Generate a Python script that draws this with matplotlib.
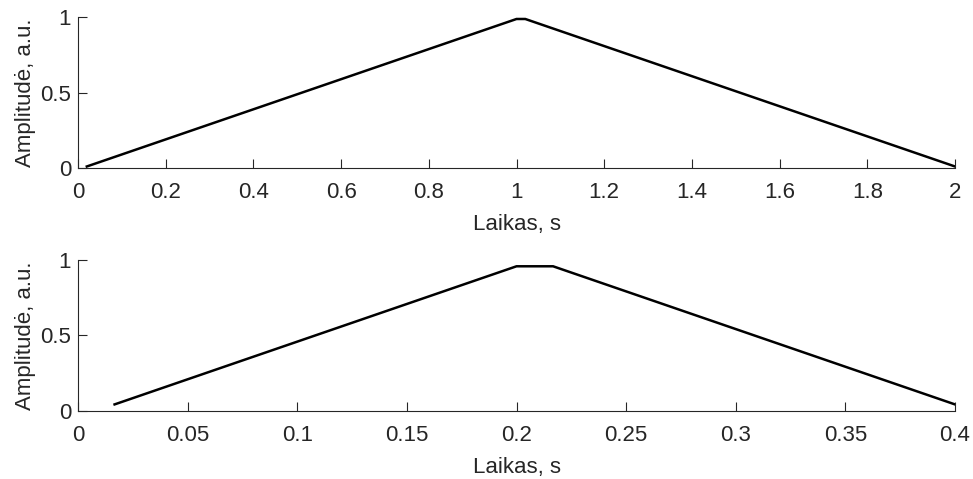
import matplotlib
matplotlib.use("Agg")
import matplotlib.pyplot as plt

# Triangular pulses (vertices of the sampled windows)
t_long = [0.02, 1.00, 1.02, 2.00]
a_long = [0.01, 0.99, 0.99, 0.01]

t_short = [1 / 60, 0.20, 13 / 60, 0.40]
a_short = [0.0417, 0.9583, 0.9583, 0.0417]

xticks_long = [0, 0.2, 0.4, 0.6, 0.8, 1, 1.2, 1.4, 1.6, 1.8, 2]
xticks_short = [0, 0.05, 0.1, 0.15, 0.2, 0.25, 0.3, 0.35, 0.4]
yticks = [0, 0.5, 1]

xlabel_text = "Laikas, s"
ylabel_text = "Amplitudė, a.u."

plt.rcParams["font.family"] = ["Liberation Sans", "DejaVu Sans"]
plt.rcParams["font.size"] = 16

axis_color = "#262626"
FS = 16

fig = plt.figure(figsize=(9.73, 4.79), dpi=100)
ax1 = fig.add_axes([0.0802, 0.6493, 0.9013, 0.3142])
ax2 = fig.add_axes([0.0802, 0.1426, 0.9013, 0.3146])


def style(ax, xs, ys, ticks, xmax):
    ax.plot(xs, ys, color="black", linewidth=1.8, solid_joinstyle="miter")
    ax.set_xlim(0, xmax)
    ax.set_ylim(0, 1)
    ax.set_xticks(ticks)
    ax.set_xticklabels([f"{v:g}" for v in ticks])
    ax.set_yticks(yticks)
    ax.set_yticklabels([f"{v:g}" for v in yticks])
    for side in ("top", "right"):
        ax.spines[side].set_visible(False)
    for side in ("left", "bottom"):
        ax.spines[side].set_color(axis_color)
        ax.spines[side].set_linewidth(0.8)
    ax.tick_params(direction="in", length=6.5, width=0.8, color=axis_color,
                   labelcolor=axis_color, labelsize=FS)
    ax.tick_params(axis="x", pad=10)
    ax.tick_params(axis="y", pad=5)
    ax.set_xlabel(xlabel_text, color=axis_color, fontsize=FS, labelpad=8)
    ax.set_ylabel(ylabel_text, color=axis_color, fontsize=FS, labelpad=3)


style(ax1, t_long, a_long, xticks_long, 2)
style(ax2, t_short, a_short, xticks_short, 0.4)

fig.savefig("out.png", dpi=100)
